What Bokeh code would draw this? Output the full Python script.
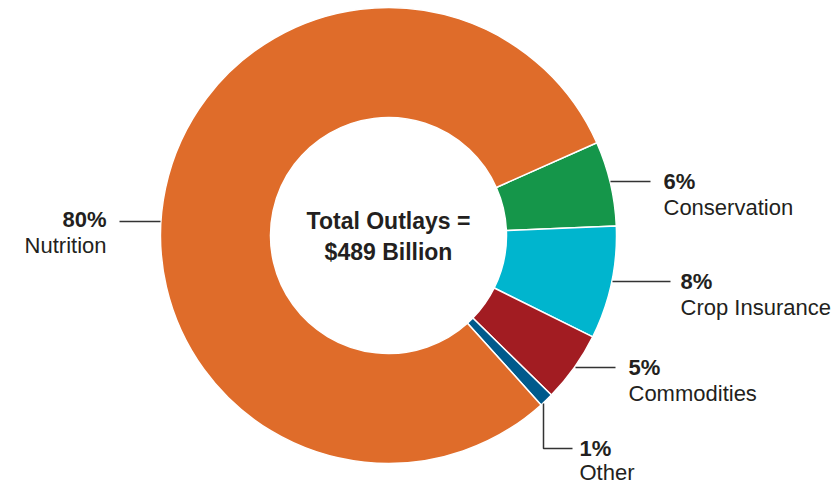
import numpy as np
from bokeh.plotting import figure
from bokeh.models import Range1d, ColumnDataSource
from bokeh.core.properties import value
from bokeh.embed import file_html
from bokeh.resources import INLINE

# ---- data ----
categories = ["Conservation", "Crop Insurance", "Commodities", "Other", "Nutrition"]
shares = [6, 8, 5, 1, 80]          # percent of total outlays
colors = ["#15964a", "#00b5ce", "#a21c22", "#005a8c", "#df6c2a"]
total_label = ["Total Outlays =", "$489 Billion"]

# ---- layout (pixels in the 839x485 window) ----
W, H = 839, 485
CX, CY = 388, 235
R_OUT, R_IN = 228, 118
START_DEG = 24.0
FONT = "Liberation Sans"
TXT = "#231f20"

def Y(py):
    return H - py

p = figure(width=W, height=H, output_backend="svg", toolbar_location=None,
           x_range=Range1d(0, W), y_range=Range1d(0, H), min_border=0)
p.axis.visible = False
p.grid.visible = False
p.outline_line_color = None
p.background_fill_color = "white"
p.border_fill_color = "white"

vals = np.array(shares, dtype=float)
frac = vals / vals.sum()
cum = np.concatenate([[0], np.cumsum(frac)])
starts = np.deg2rad(START_DEG) - cum[:-1] * 2 * np.pi
ends = np.deg2rad(START_DEG) - cum[1:] * 2 * np.pi

src = ColumnDataSource(dict(x=[CX] * len(categories), y=[Y(CY)] * len(categories),
                            start=ends, end=starts, color=colors, cat=categories))
p.annular_wedge(x="x", y="y", inner_radius=R_IN, outer_radius=R_OUT,
                start_angle="start", end_angle="end", fill_color="color",
                line_color="white", line_width=1.5, source=src)

# leader lines
LC = "#333333"
p.line([119, 160], [Y(221), Y(221)], line_color=LC, line_width=1.5)
p.line([610, 650], [Y(181), Y(181)], line_color=LC, line_width=1.5)
p.line([612, 670], [Y(281), Y(281)], line_color=LC, line_width=1.5)
p.line([575, 615], [Y(367), Y(367)], line_color=LC, line_width=1.5)
p.line([543, 543, 572], [Y(403), Y(448), Y(448)], line_color=LC, line_width=1.5)

pct = [f"{s}%" for s in shares]
# label anchors: (x, y of pct line, align, gap to name line)
anchors = {
    "Conservation": (663, 181, "left", 26),
    "Crop Insurance": (680, 281, "left", 26),
    "Commodities": (628, 367, "left", 26),
    "Other": (579, 448, "left", 24),
    "Nutrition": (106, 219, "right", 26),
}
for cat, pc in zip(categories, pct):
    ax, ay, al, gap = anchors[cat]
    p.text(x=[ax], y=[Y(ay)], text=[pc], text_font=value(FONT), text_font_style="bold",
           text_font_size="22px", text_color=TXT, text_align=al, text_baseline="middle")
    p.text(x=[ax], y=[Y(ay + gap)], text=[cat], text_font=value(FONT),
           text_font_size="22px", text_color=TXT, text_align=al, text_baseline="middle")

p.text(x=[CX, CX], y=[Y(220), Y(251)], text=total_label, text_font=value(FONT),
       text_font_style="bold", text_font_size="23px", text_color=TXT,
       text_align="center", text_baseline="middle")

open("out.html", "w").write(file_html(p, INLINE))
